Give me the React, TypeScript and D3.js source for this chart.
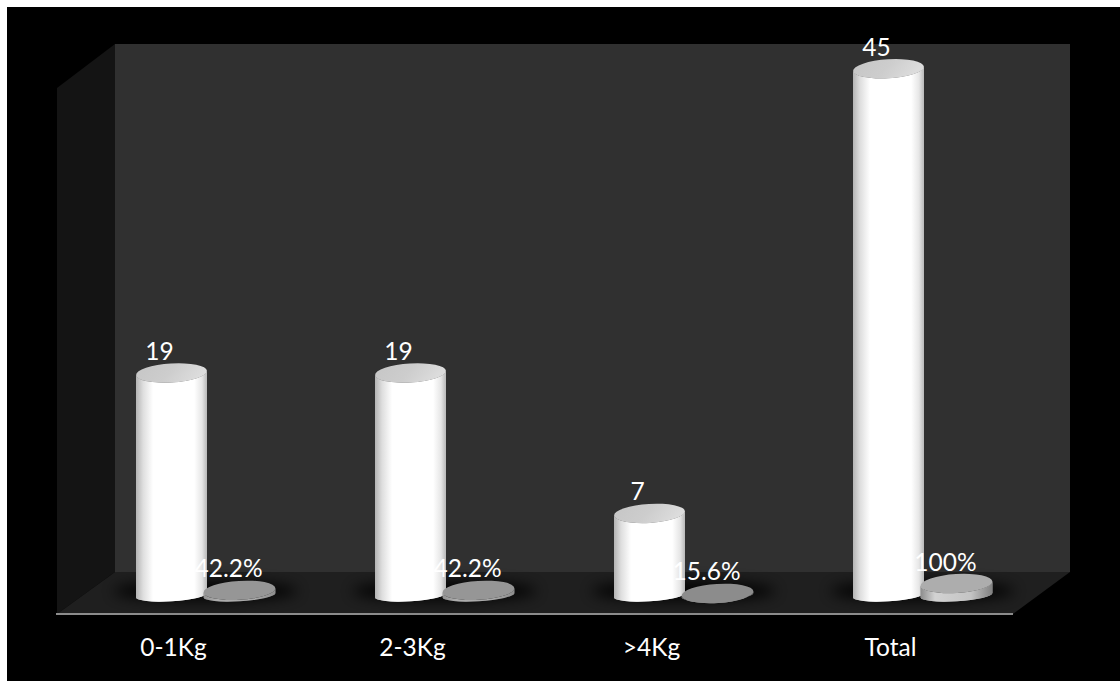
import React from "react";
import * as d3 from "d3";

// Weight groups with their counts and share of the total
const categories = ["0-1Kg", "2-3Kg", ">4Kg", "Total"];
const counts = [19, 19, 7, 45];
const shares = [42.2, 42.2, 15.6, 100];
const shareLabels = ["42.2%", "42.2%", "15.6%", "100%"];

const W = 1120;
const H = 681;
const FONT = "Lato, 'Open Sans', sans-serif";

const group = d3.scaleBand<string>().domain(categories).range([86, 1042]);
const series = d3.scaleBand<string>().domain(["count", "share"]).range([-68, 68]).padding(0);
// Shares are plotted on the same axis as the counts, as fractions of one.
const y = d3.scaleLinear().domain([0, 45]).range([595.3, 68.8]);
const discTone = d3.scaleLinear<string>().domain([0.156, 1]).range(["#8c8c8c", "#adadad"]);
const discSide = d3.scaleLinear().domain([0.156, 1]).range([0.12, 1]);

const TILT = -3.5;
const BASE_RY = 6;

function cylinderBody(cx: number, rx: number, ry: number, top: number, base: number) {
  const t = (TILT * Math.PI) / 180;
  const dx = rx * Math.cos(t);
  const dy = rx * Math.sin(t);
  return [
    `M${cx - dx},${top - dy}`,
    `L${cx - dx},${base - dy}`,
    `A${rx},${BASE_RY} ${TILT} 0 0 ${cx + dx},${base + dy}`,
    `L${cx + dx},${top + dy}`,
    `A${rx},${ry} ${TILT} 0 1 ${cx - dx},${top - dy}`,
    "Z",
  ].join(" ");
}

function Cylinder({ cx, value, rx, ry, body, cap, bodyOpacity = 1 }: { cx: number; value: number; rx: number; ry: number; body: string; cap: string; bodyOpacity?: number }) {
  const top = y(value);
  const base = y(0);
  const d = cylinderBody(cx, rx, ry, top, base);
  return (
    <g>
      <path d={d} fill={cap} />
      <path d={d} fill={body} opacity={bodyOpacity} />
      <ellipse cx={cx} cy={top} rx={rx} ry={ry} fill={cap} transform={`rotate(${TILT} ${cx} ${top})`} />
    </g>
  );
}

const valueLabel: React.CSSProperties = { fontFamily: FONT, fontSize: 24.5, fill: "#fff" };

export default function App() {
  const center = (c: string) => (group(c) as number) + group.bandwidth() / 2;
  const barX = (c: string) => center(c) + (series("count") as number) + series.bandwidth() / 2;
  const discX = (c: string) => center(c) + (series("share") as number) + series.bandwidth() / 2;

  return (
    <svg width={W} height={H} style={{ position: "absolute", left: 0, top: 0, display: "block" }}>
      <defs>
        <linearGradient id="barBody" x1="0" x2="1" y1="0" y2="0">
          <stop offset="0" stopColor="#b4b4b4" />
          <stop offset="0.1" stopColor="#dedede" />
          <stop offset="0.24" stopColor="#ffffff" />
          <stop offset="0.82" stopColor="#ffffff" />
          <stop offset="0.93" stopColor="#e6e6e6" />
          <stop offset="1" stopColor="#b8b8b8" />
        </linearGradient>
        <linearGradient id="barCap" x1="0" x2="1" y1="0" y2="0.25">
          <stop offset="0" stopColor="#c6c6c6" />
          <stop offset="0.55" stopColor="#cdcdcd" />
          <stop offset="1" stopColor="#dcdcdc" />
        </linearGradient>
        <linearGradient id="discBody" x1="0" x2="1" y1="0" y2="0">
          <stop offset="0" stopColor="#8c8c8c" />
          <stop offset="0.2" stopColor="#d2d2d2" />
          <stop offset="0.7" stopColor="#c4c4c4" />
          <stop offset="1" stopColor="#808080" />
        </linearGradient>
        <filter id="floorShadow" x="-30%" y="-100%" width="160%" height="300%">
          <feGaussianBlur stdDeviation="7" />
        </filter>
      </defs>

      <rect x={0} y={0} width={W} height={H} fill="#ffffff" />
      <rect x={7} y={7} width={W - 7} height={H - 7} fill="#000000" />

      {/* chart walls and floor */}
      <path d="M57,88 L115,44 L115,572 L57,614 Z" fill="#141414" />
      <rect x={115} y={44} width={955} height={528} fill="#303030" />
      <path d="M57,614 L115,572 L1070,572 L1013,614 Z" fill="#1f1f1f" />
      <line x1={56} x2={1013} y1={614} y2={614} stroke="#8c8c8c" strokeWidth={2} />

      {/* contact shadows under each group */}
      {categories.map((c) => (
        <ellipse key={c} cx={center(c)} cy={591} rx={92} ry={10} fill="#000" opacity={0.9} filter="url(#floorShadow)" />
      ))}

      {categories.map((c, i) => (
        <g key={c}>
          <Cylinder cx={barX(c)} value={counts[i]} rx={35.5} ry={9.5} body="url(#barBody)" cap="url(#barCap)" />
          <Cylinder
            cx={discX(c)}
            value={shares[i] / 100}
            rx={36}
            ry={9.5}
            body="url(#discBody)"
            cap={discTone(shares[i] / 100)}
            bodyOpacity={discSide(shares[i] / 100)}
          />
          <text x={barX(c) - 12} y={y(counts[i]) - 13} textAnchor="middle" style={valueLabel}>
            {counts[i]}
          </text>
          <text x={discX(c) - 11} y={y(shares[i] / 100) - 13} textAnchor="middle" style={valueLabel}>
            {shareLabels[i]}
          </text>
          <text x={center(c) - 32} y={656} textAnchor="middle" style={valueLabel}>
            {c}
          </text>
        </g>
      ))}
    </svg>
  );
}
